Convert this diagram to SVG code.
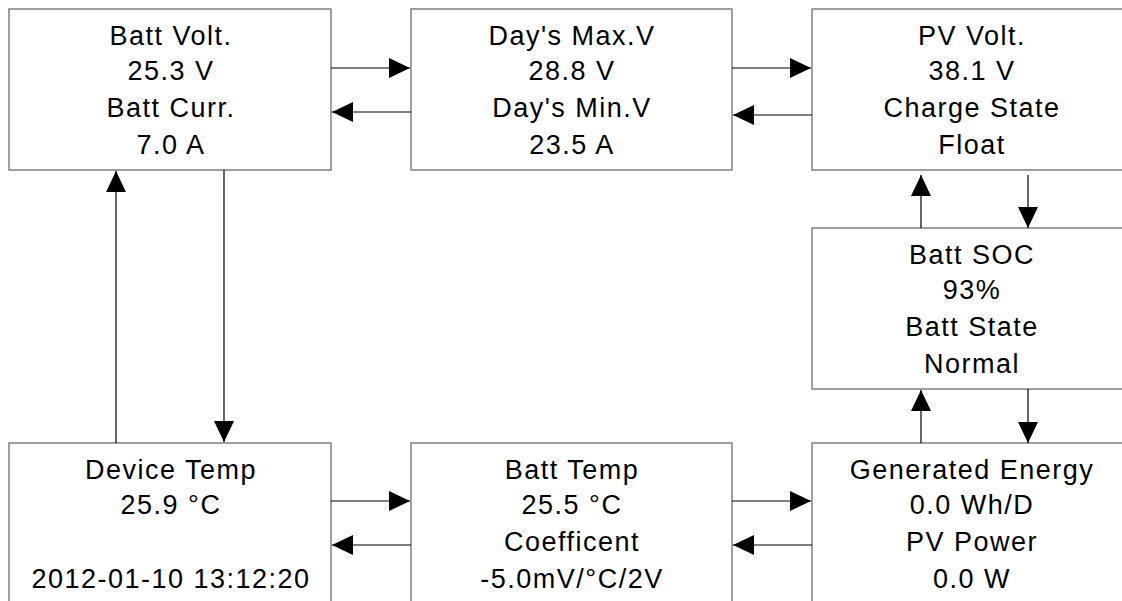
<svg xmlns="http://www.w3.org/2000/svg" width="1122" height="601" viewBox="0 0 1122 601">
<style>
.box{fill:#fff;stroke:#808080;stroke-width:1.5}
.t{font-family:"Liberation Sans",Arial,sans-serif;font-size:27px;letter-spacing:1.5px;fill:#000;text-anchor:middle}
.c{fill:none;stroke:#000;stroke-width:1.2;marker-end:url(#ah)}
</style>
<defs>
<marker id="ah" viewBox="0 0 21 20" refX="21" refY="10" markerWidth="21" markerHeight="20" markerUnits="userSpaceOnUse" orient="auto">
<path d="M0,0 L21,10 L0,20 Z" fill="#000"/>
</marker>
</defs>
<rect width="1122" height="601" fill="#fff"/>
<g id="batt-volt">
<rect class="box" x="9" y="9" width="322" height="161"/>
<text class="t" x="171" y="45">Batt Volt.</text>
<text class="t" x="171" y="80">25.3 V</text>
<text class="t" x="171" y="117">Batt Curr.</text>
<text class="t" x="171" y="154">7.0 A</text>
</g>
<g id="days-max">
<rect class="box" x="411" y="9" width="321" height="161"/>
<text class="t" x="572" y="45">Day's Max.V</text>
<text class="t" x="572" y="80">28.8 V</text>
<text class="t" x="572" y="117">Day's Min.V</text>
<text class="t" x="572" y="154">23.5 A</text>
</g>
<g id="pv-volt">
<rect class="box" x="812" y="9" width="322" height="161"/>
<text class="t" x="972" y="45">PV Volt.</text>
<text class="t" x="972" y="80">38.1 V</text>
<text class="t" x="972" y="117">Charge State</text>
<text class="t" x="972" y="154">Float</text>
</g>
<g id="batt-soc">
<rect class="box" x="812" y="228" width="322" height="161"/>
<text class="t" x="972" y="264">Batt SOC</text>
<text class="t" x="972" y="299">93%</text>
<text class="t" x="972" y="336">Batt State</text>
<text class="t" x="972" y="373">Normal</text>
</g>
<g id="device-temp">
<rect class="box" x="9" y="443" width="322" height="170"/>
<text class="t" x="171" y="479">Device Temp</text>
<text class="t" x="171" y="514">25.9 °C</text>
<text class="t" x="171" y="588">2012-01-10 13:12:20</text>
</g>
<g id="batt-temp">
<rect class="box" x="411" y="443" width="321" height="170"/>
<text class="t" x="572" y="479">Batt Temp</text>
<text class="t" x="572" y="514">25.5 °C</text>
<text class="t" x="572" y="551">Coefficent</text>
<text class="t" x="572" y="588">-5.0mV/°C/2V</text>
</g>
<g id="generated-energy">
<rect class="box" x="812" y="443" width="322" height="170"/>
<text class="t" x="972" y="479">Generated Energy</text>
<text class="t" x="972" y="514">0.0 Wh/D</text>
<text class="t" x="972" y="551">PV Power</text>
<text class="t" x="972" y="588">0.0 W</text>
</g>
<g id="connectors">
<path class="c" d="M331,68 L410,68"/>
<path class="c" d="M411,112 L332,112"/>
<path class="c" d="M732,68 L811,68"/>
<path class="c" d="M812,115 L733,115"/>
<path class="c" d="M921,228 L921,175"/>
<path class="c" d="M1028,175 L1028,228"/>
<path class="c" d="M921,443 L921,390"/>
<path class="c" d="M1028,389 L1028,443"/>
<path class="c" d="M116,443 L116,171"/>
<path class="c" d="M224,170 L224,442"/>
<path class="c" d="M331,501 L410,501"/>
<path class="c" d="M411,545 L332,545"/>
<path class="c" d="M732,501 L811,501"/>
<path class="c" d="M812,545 L733,545"/>
</g>
</svg>
